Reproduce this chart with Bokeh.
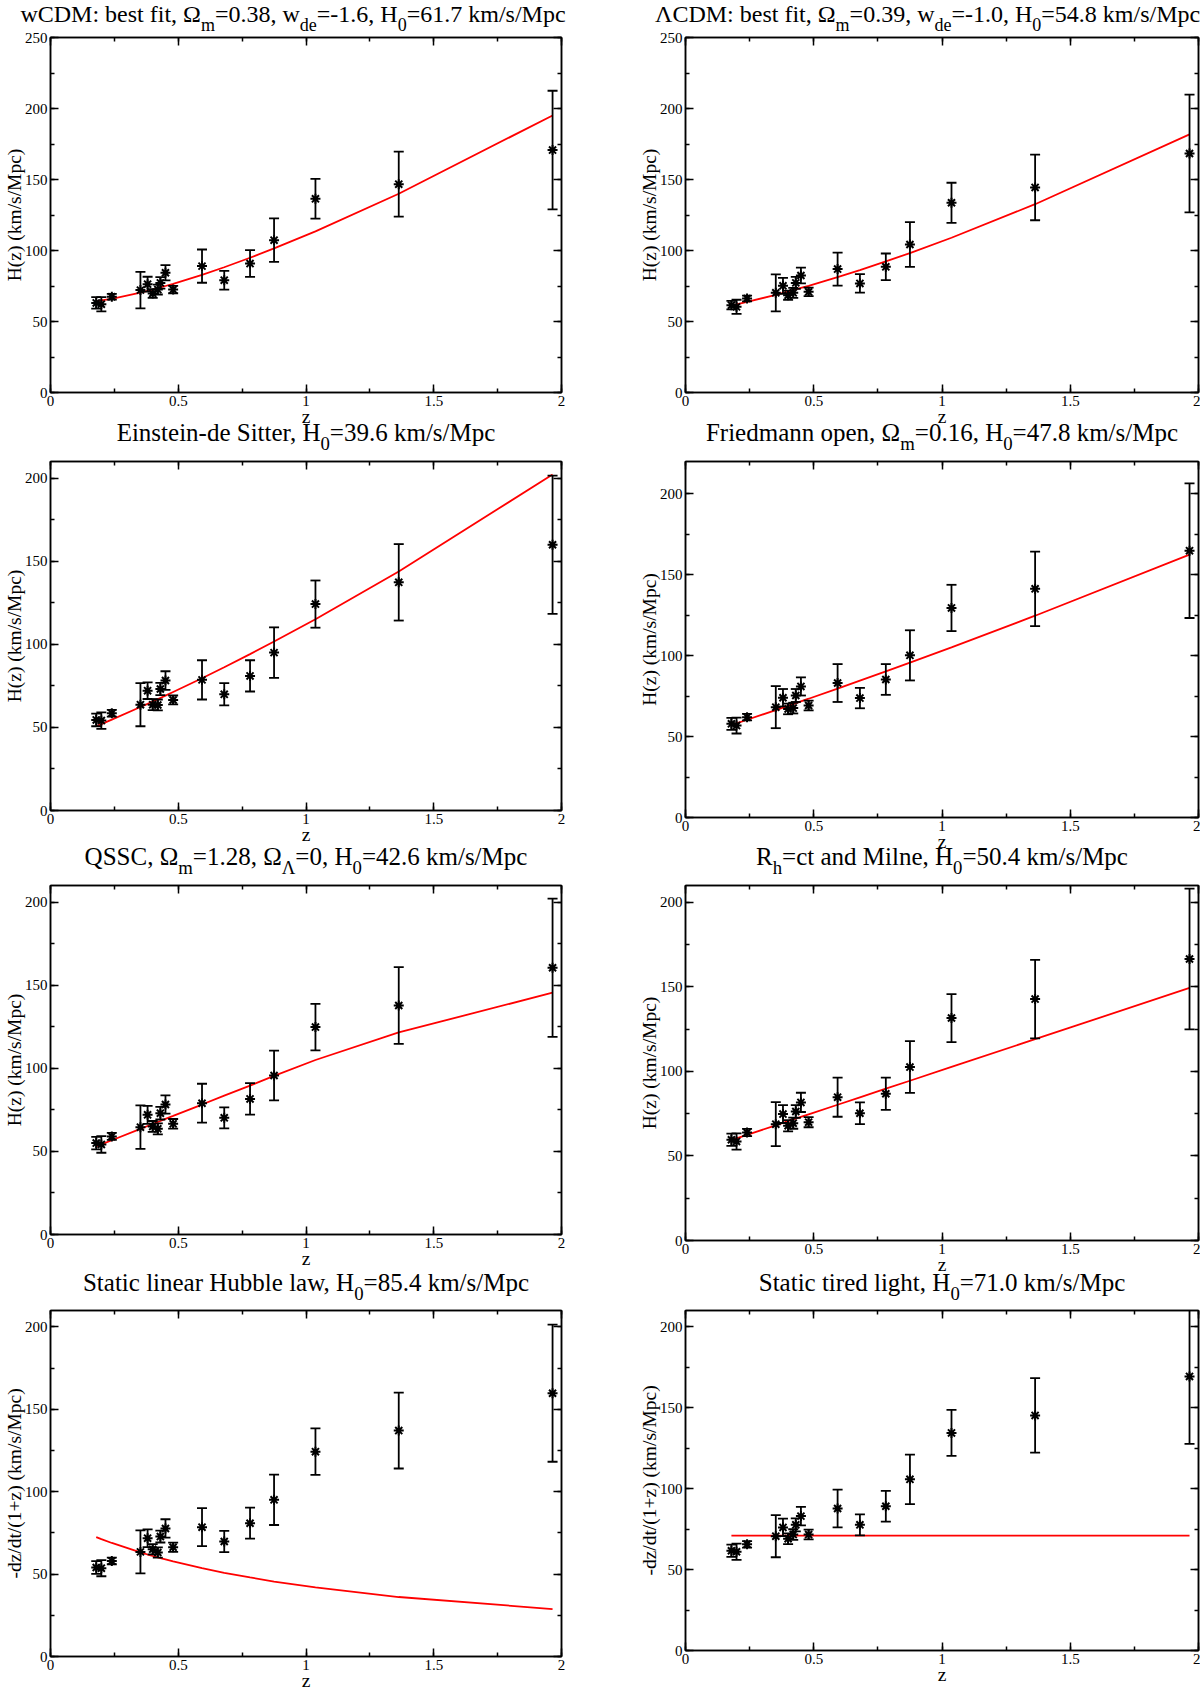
#H(z) data against eight cosmological models
from bokeh.plotting import figure
from bokeh.models import (Range1d, LinearAxis, SingleIntervalTicker, NumeralTickFormatter,
                          Div, CustomLabelingPolicy)
from bokeh.layouts import column, row
from bokeh.embed import file_html
from bokeh.resources import INLINE

#redshift of every data point (same in all panels)
z = [0.179, 0.199, 0.24, 0.352, 0.38, 0.40, 0.42, 0.43, 0.45, 0.48,
     0.593, 0.68, 0.781, 0.875, 1.037, 1.363, 1.965]

#wCDM
h_wcdm = [63.1, 62.2, 67.4, 72.1, 76.3, 69.7, 72.5, 77.2, 84.3, 72.5, 89.0, 79.1, 90.8, 107.3, 136.4, 146.7, 170.7]
e_wcdm = [4.0, 5.0, 2.0, 12.9, 5.2, 3.0, 3.5, 4.0, 5.4, 2.6, 11.7, 6.6, 9.4, 15.3, 14.0, 22.9, 41.8]
m_wcdm = [64.2, 64.8, 66.0, 70.3, 71.6, 72.5, 73.5, 74.0, 75.0, 76.5, 82.9, 88.2, 94.9, 101.5, 113.5, 140.0, 195.1]

#LambdaCDM
h_lcdm = [61.5, 60.3, 66.2, 70.2, 75.1, 68.5, 70.2, 77.2, 82.4, 70.9, 86.9, 76.8, 88.5, 104.2, 133.6, 144.4, 168.3]
e_lcdm = [3.0, 5.0, 2.0, 13.0, 5.6, 3.2, 3.5, 4.2, 5.6, 3.0, 11.6, 6.5, 9.4, 15.8, 14.1, 23.1, 41.5]
m_lcdm = [61.2, 62.0, 63.8, 68.8, 70.1, 71.1, 72.1, 72.6, 73.6, 75.1, 81.2, 86.2, 92.3, 98.2, 109.0, 132.6, 181.8]

#Einstein-de Sitter
h_eds = [54.5, 54.1, 58.5, 63.7, 72.1, 63.7, 63.5, 73.1, 78.2, 66.5, 78.6, 69.9, 81.0, 95.0, 124.2, 137.3, 159.9]
e_eds = [3.8, 5.0, 2.0, 13.0, 5.0, 3.3, 3.3, 3.7, 5.6, 2.7, 11.8, 6.7, 9.4, 15.2, 14.2, 23.0, 41.6]
m_eds = [50.7, 52.0, 54.7, 62.3, 64.2, 65.6, 67.0, 67.7, 69.1, 71.3, 79.6, 86.2, 94.1, 101.7, 115.1, 143.8, 202.2]

#Friedmann open
h_open = [57.9, 56.8, 62.0, 68.2, 74.0, 67.1, 67.6, 75.4, 81.0, 69.2, 83.1, 73.8, 85.3, 100.2, 129.5, 141.3, 164.9]
e_open = [3.7, 4.9, 2.0, 13.0, 5.4, 3.3, 3.3, 4.0, 5.6, 3.0, 11.7, 6.3, 9.5, 15.5, 14.3, 23.0, 41.6]
m_open = [57.2, 58.2, 60.4, 66.4, 67.9, 69.0, 70.1, 70.7, 71.8, 73.4, 79.7, 84.6, 90.3, 95.7, 105.1, 124.7, 162.5]

#QSSC
h_qssc = [55.0, 54.2, 59.0, 64.6, 72.0, 65.0, 63.6, 73.0, 78.2, 66.6, 79.0, 70.2, 81.6, 95.7, 124.8, 137.8, 160.5]
e_qssc = [3.8, 5.0, 2.1, 13.1, 5.4, 3.3, 3.3, 3.8, 5.5, 2.9, 11.7, 6.3, 9.5, 15.0, 14.0, 23.1, 41.6]
m_qssc = [53.0, 54.2, 56.7, 63.6, 65.3, 66.5, 67.7, 68.3, 69.6, 71.4, 78.2, 83.6, 89.6, 95.4, 105.0, 121.6, 145.5]

#Rh=ct and Milne
h_rh = [59.6, 58.6, 63.9, 68.8, 74.8, 67.9, 69.4, 76.3, 81.7, 70.0, 84.8, 75.3, 86.8, 102.6, 131.6, 142.8, 166.5]
e_rh = [3.6, 4.8, 2.1, 13.0, 5.3, 3.3, 3.3, 3.8, 5.7, 3.0, 11.6, 6.4, 9.5, 15.3, 14.2, 23.2, 41.6]
m_rh = [59.4, 60.4, 62.5, 68.1, 69.6, 70.6, 71.6, 72.1, 73.1, 74.6, 80.3, 84.7, 89.8, 94.5, 102.7, 119.1, 149.4]

#Static linear Hubble law
h_slh = [54.0, 53.6, 58.0, 63.5, 71.8, 65.1, 63.1, 72.8, 77.7, 66.3, 78.5, 69.8, 80.9, 95.1, 124.3, 137.1, 159.8]
e_slh = [3.9, 4.9, 2.0, 13.1, 5.4, 3.1, 3.1, 3.6, 5.6, 2.8, 11.5, 6.4, 9.4, 15.3, 14.1, 23.0, 41.6]
m_slh = [72.4, 71.2, 68.9, 63.2, 61.9, 61.0, 60.1, 59.7, 58.9, 57.7, 53.6, 50.8, 48.0, 45.5, 41.9, 36.1, 28.8]

#Static tired light
h_tl = [61.6, 61.0, 65.6, 70.6, 76.0, 69.0, 71.6, 77.6, 83.0, 71.6, 87.7, 77.6, 89.1, 105.7, 134.4, 145.2, 169.3]
e_tl = [3.8, 5.0, 2.0, 13.0, 5.4, 3.3, 3.3, 4.0, 5.7, 3.0, 11.7, 6.5, 9.5, 15.3, 14.2, 23.0, 41.7]
m_tl = [71.0, 71.0, 71.0, 71.0, 71.0, 71.0, 71.0, 71.0, 71.0, 71.0, 71.0, 71.0, 71.0, 71.0, 71.0, 71.0, 71.0]

#titles (html for the subscripts)
def sub(s):
    return '<sub style="font-size:75%;vertical-align:-9px;line-height:0">' + s + '</sub>'

titles = [
    'wCDM: best fit, Ω' + sub('m') + '=0.38, w' + sub('de') + '=-1.6, H' + sub('0') + '=61.7 km/s/Mpc',
    'ΛCDM: best fit, Ω' + sub('m') + '=0.39, w' + sub('de') + '=-1.0, H' + sub('0') + '=54.8 km/s/Mpc',
    'Einstein-de Sitter, H' + sub('0') + '=39.6 km/s/Mpc',
    'Friedmann open, Ω' + sub('m') + '=0.16, H' + sub('0') + '=47.8 km/s/Mpc',
    'QSSC, Ω' + sub('m') + '=1.28, Ω' + sub('Λ') + '=0, H' + sub('0') + '=42.6 km/s/Mpc',
    'R' + sub('h') + '=ct and Milne, H' + sub('0') + '=50.4 km/s/Mpc',
    'Static linear Hubble law, H' + sub('0') + '=85.4 km/s/Mpc',
    'Static tired light, H' + sub('0') + '=71.0 km/s/Mpc',
]

FONT = "Liberation Serif"
HLABEL = "H(z) (km/s/Mpc)"
DLABEL = "-dz/dt/(1+z) (km/s/Mpc)"

#no labels on the mirrored axes
NO_LABELS = CustomLabelingPolicy(code="""
for (const i of Array.from(indices)) { indices.unset(i) }
return indices
""")


def make_title(html, width, height, shift_x, shift_y, align, size):
    #title as a div so the subscripts stay real text
    inner = ('<div style="position:relative;top:%dpx;left:%dpx;width:%dpx;white-space:nowrap;'
             'text-align:%s;font-family:\'Liberation Serif\';font-size:%dpx;'
             'line-height:24px;color:black">%s</div>' % (shift_y, shift_x, width, align, size, html))
    return Div(text=inner, width=width, height=height, margin=0)


def tick_style(axis, labels):
    axis.axis_line_color = "black"
    axis.axis_line_width = 1.5
    axis.major_tick_line_color = "black"
    axis.minor_tick_line_color = "black"
    axis.major_tick_line_width = 1.5
    axis.minor_tick_line_width = 1.5
    axis.major_tick_out = 0
    axis.major_tick_in = 8
    axis.minor_tick_out = 0
    axis.minor_tick_in = 4
    if labels:
        axis.major_label_text_font = FONT
        axis.major_label_text_font_size = "15px"
        axis.major_label_text_color = "black"
        axis.major_label_standoff = 3
        axis.axis_label_text_font = FONT
        axis.axis_label_text_font_size = "19.5px"
        axis.axis_label_text_font_style = "normal"
        axis.axis_label_text_color = "black"
        axis.axis_label_standoff = -3
    else:
        axis.major_label_text_font_size = "0px"
        axis.major_label_standoff = 0
        axis.major_label_policy = NO_LABELS


def make_panel(h, err, model, ylabel, ytop, width, left, right, height, top, bottom):
    p = figure(width=width, height=height,
               x_range=Range1d(0, 2), y_range=Range1d(0, ytop),
               output_backend="svg", toolbar_location=None,
               min_border_left=left, min_border_right=right,
               min_border_top=top, min_border_bottom=bottom)
    p.xgrid.visible = False
    p.ygrid.visible = False
    p.outline_line_color = "black"
    p.outline_line_width = 1.5
    p.background_fill_color = "white"
    #transparent border so the titles above are not covered
    p.border_fill_color = None

    #axes
    p.xaxis.ticker = SingleIntervalTicker(interval=0.5, num_minor_ticks=2)
    p.xaxis.formatter = NumeralTickFormatter(format="0.[0]")
    p.yaxis.ticker = SingleIntervalTicker(interval=50, num_minor_ticks=2)
    p.xaxis.axis_label = "z"
    p.yaxis.axis_label = ylabel
    tick_style(p.xaxis[0], True)
    tick_style(p.yaxis[0], True)
    #mirror ticks on top and right
    mtop = LinearAxis(ticker=SingleIntervalTicker(interval=0.5, num_minor_ticks=2))
    tick_style(mtop, False)
    p.add_layout(mtop, "above")
    mrgt = LinearAxis(ticker=SingleIntervalTicker(interval=50, num_minor_ticks=2))
    tick_style(mrgt, False)
    p.add_layout(mrgt, "right")

    #model curve
    p.line(z, model, line_color="red", line_width=1.8)

    #error bars with caps
    lo = [a - b for a, b in zip(h, err)]
    hi = [a + b for a, b in zip(h, err)]
    p.segment(x0=z, y0=lo, x1=z, y1=hi, line_color="black", line_width=1.8)
    p.scatter(z, lo, marker="dash", size=10, line_color="black", line_width=1.8)
    p.scatter(z, hi, marker="dash", size=10, line_color="black", line_width=1.8)

    #data points
    p.scatter(z, h, marker="asterisk", size=10, line_color="black", line_width=2)
    return p


#Main
LW, RW = 608, 592
#left column: border 49 / 47, right column: border 77 / 2
p1 = make_panel(h_wcdm, e_wcdm, m_wcdm, HLABEL, 250, LW, 49, 47, 424, 13, 56)
p2 = make_panel(h_lcdm, e_lcdm, m_lcdm, HLABEL, 250, RW, 77, 2, 424, 13, 56)
p3 = make_panel(h_eds, e_eds, m_eds, HLABEL, 210, LW, 49, 47, 416, 5, 62)
p4 = make_panel(h_open, e_open, m_open, HLABEL, 220, RW, 77, 2, 416, 5, 55)
p5 = make_panel(h_qssc, e_qssc, m_qssc, HLABEL, 210, LW, 49, 47, 417, 5, 63)
p6 = make_panel(h_rh, e_rh, m_rh, HLABEL, 210, RW, 77, 2, 417, 5, 57)
p7 = make_panel(h_slh, e_slh, m_slh, DLABEL, 210, LW, 49, 47, 389, 5, 38)
p8 = make_panel(h_tl, e_tl, m_tl, DLABEL, 210, RW, 77, 2, 389, 5, 44)

plots = [(p1, p2), (p3, p4), (p5, p6), (p7, p8)]
#title div height, vertical shift and font size of the titles per row
div_h = [24, 8, 8, 8]
shift_y = [2, -27, -27, -26]
title_size = [24, 25, 25, 25]
#horizontal placement of the titles (left, right)
left_title = [(-11, "center"), (2, "center"), (2, "center"), (2, "center")]
right_title = [(47, "left"), (38, "center"), (38, "center"), (38, "center")]

rows = []
for i in range(4):
    lp, rp = plots[i]
    lt = make_title(titles[2 * i], LW, div_h[i], left_title[i][0], shift_y[i],
                    left_title[i][1], title_size[i])
    rt = make_title(titles[2 * i + 1], RW, div_h[i], right_title[i][0], shift_y[i],
                    right_title[i][1], title_size[i])
    rows.append(row(column(lt, lp), column(rt, rp)))

layout = column(*rows)
open("out.html", "w").write(file_html(layout, INLINE))
